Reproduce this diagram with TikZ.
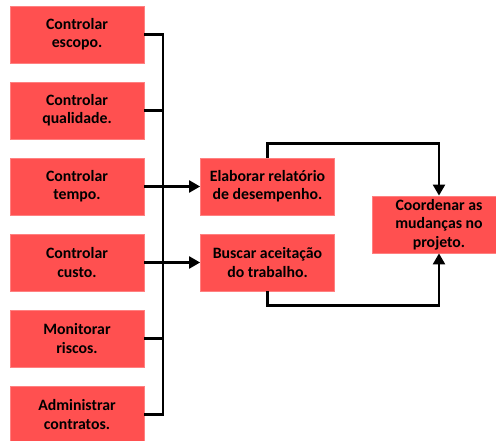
\documentclass[tikz,border=0pt]{standalone}
\usepackage{fontspec}
\setmainfont{Carlito}
\usetikzlibrary{arrows.meta}
\definecolor{boxred}{HTML}{FF5050}
\definecolor{boxedge}{HTML}{FF8080}
\tikzset{
  box/.style={rectangle, fill=boxred, draw=boxedge, line width=0.8pt,
    minimum width=134pt, minimum height=57pt, inner sep=0pt, align=center,
    font=\fontsize{15.8pt}{18.3pt}\selectfont\bfseries, text=black},
  conn/.style={line width=2.3pt, black},
  arr/.style={conn, -{Triangle[length=11pt,width=12pt]}}
}
\begin{document}
\begin{tikzpicture}[x=1pt,y=-1pt]
\useasboundingbox (0,0) rectangle (496,441);
\node[box] (a1) at (77,34.5) {Controlar\\escopo.};
\node[box] (a2) at (77,110.5) {Controlar\\qualidade.};
\node[box] (a3) at (77,186.5) {Controlar\\tempo.};
\node[box] (a4) at (77,262.5) {Controlar\\custo.};
\node[box] (a5) at (77,338.5) {Monitorar\\riscos.};
\node[box] (a6) at (77,414.5) {Administrar\\contratos.};
\node[box] (m1) at (267.5,186.5) {Elaborar relatório\\de desempenho.};
\node[box] (m2) at (267.5,262.5) {Buscar aceitação\\do trabalho.};
\node[box] (c) at (439,224.5) {Coordenar as\\mudanças no\\projeto.};
\coordinate (bt) at (163,34.5);
\coordinate (bb) at (163,414.5);
\draw[conn] (a1.east) -- (bt) -- (bb) -- (a6.east);
\draw[conn] (a2.east) -- (a2.east -| bt);
\draw[conn] (a5.east) -- (a5.east -| bt);
\draw[arr] (a3.east) -- (m1.west);
\draw[arr] (a4.east) -- (m2.west);
\draw[arr] (m1.north) -- ++(0,-14) -| (c.north);
\draw[arr] (m2.south) -- ++(0,14) -| (c.south);
\end{tikzpicture}
\end{document}
